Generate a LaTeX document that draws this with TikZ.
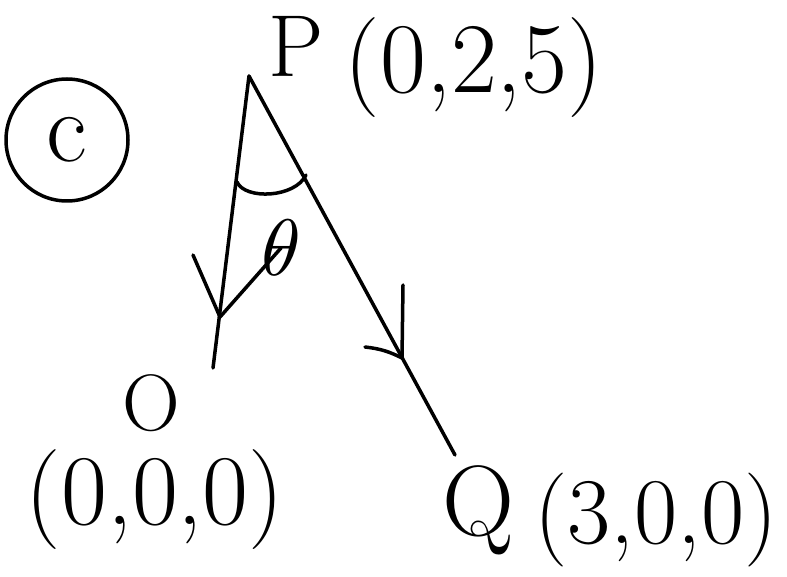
\documentclass[tikz,border=0pt]{standalone}
\begin{document}
\begin{tikzpicture}[x=1pt, y=-1pt, line width = 3.5pt, line cap=round, line join=round,
  lbl/.style={inner sep=0pt, font=\fontsize{100}{100}\selectfont}]
\useasboundingbox (0,0) rectangle (787,577);

\coordinate (p) at (249,76);
\coordinate (o) at (213,368);
\coordinate (q) at (455,455);

% arrow tips and wings
\coordinate (ao) at (220,317);
\coordinate (aol) at (193,255);
\coordinate (aq) at (402,358);
\coordinate (aql) at (365,347);
\coordinate (aqr) at (403,285);

% angle arc ends
\coordinate (arca) at (237,182);
\coordinate (arcb) at (306,175);

\node[draw, circle, minimum size=122pt, inner sep=0pt] (tag) at (67,140) {};
\node[lbl] (tagc) at (tag.center) {c};
\node[lbl, font=\fontsize{88}{88}\selectfont] (plbl) at (296,46) {P};
\node[lbl] (pco) at (474,68) {(0,2,5)};
\node[lbl, font=\fontsize{80}{80}\selectfont] (olbl) at (151,403) {O};
\node[lbl] (oco) at (155,500) {(0,0,0)};
\node[lbl] (qlbl) at (478,510) {Q};
\node[lbl, font=\fontsize{94}{94}\selectfont] (qco) at (656,520) {(3,0,0)};
\node[inner sep=0pt, scale=8] (th) at (281,248) {$\theta$};

\draw (p) -- (o);
\draw (p) -- (q);
\draw (aol) -- (ao) -- (th.center);
\draw (aqr) -- (aq);
\draw (aql) to[bend left=10] (aq);
\draw (arca) .. controls (245,200) and (295,198) .. (arcb);

\end{tikzpicture}
\end{document}
